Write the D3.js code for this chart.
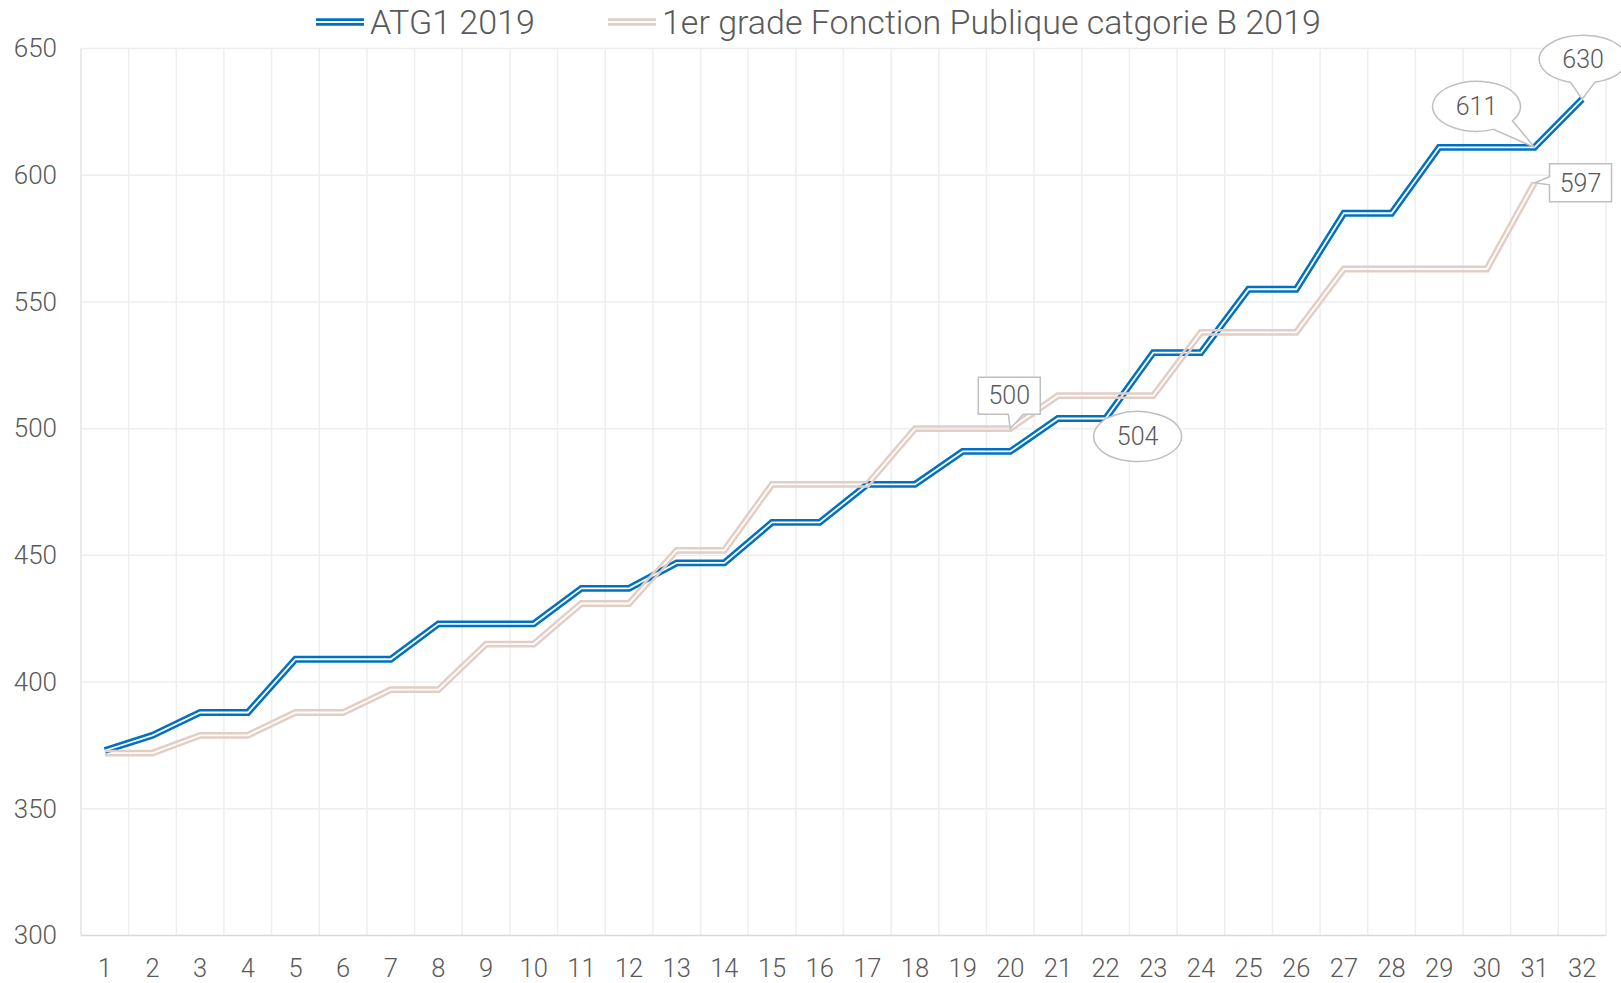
<!DOCTYPE html>
<html>
<head>
<meta charset="utf-8">
<script src="https://cdn.jsdelivr.net/npm/d3@7"></script>
<style>
  body { margin: 0; background: #fff; }
  text { font-family: Roboto, "Open Sans", sans-serif; font-weight: 300; fill: #595959; }
</style>
</head>
<body>
<div id="chart"></div>
<script>
// categories (echelons)
var echelons = d3.range(1, 33).map(String)

// series values
var atg1 = [373, 379, 388, 388, 409, 409, 409, 423, 423, 423, 437, 437, 447, 447, 463, 463,
            478, 478, 491, 491, 504, 504, 530, 530, 555, 555, 585, 585, 611, 611, 611, 630]
var fonctionB = [372, 372, 379, 379, 388, 388, 397, 397, 415, 415, 431, 431, 452, 452, 478, 478,
                 478, 500, 500, 500, 513, 513, 513, 538, 538, 538, 563, 563, 563, 563, 597, null]

var seriesNames = ["ATG1 2019", "1er grade Fonction Publique catgorie B 2019"]
var yTicks = [300, 350, 400, 450, 500, 550, 600, 650]

var width = 1621, height = 983
var plotL = 81, plotR = 1606, plotT = 48.5, plotB = 935.5
var colors = ["#0070c0", "#e3cec6"]

var svg = d3.select("#chart").append("svg").attr("width", width).attr("height", height)

var x = d3.scaleBand().domain(echelons).range([plotL, plotR])
var y = d3.scaleLinear().domain([300, 650]).range([plotB, plotT])
function cx(c) { return x(c) + x.bandwidth() / 2 }

// horizontal grid
svg.append("g")
  .selectAll("line").data(yTicks.slice(1)).enter().append("line")
    .attr("x1", plotL).attr("x2", plotR)
    .attr("y1", function(d) { return y(d) }).attr("y2", function(d) { return y(d) })
    .attr("stroke", "#eeeeee").attr("stroke-width", 1.5)

// vertical grid at category boundaries
svg.append("g")
  .selectAll("line").data(echelons).enter().append("line")
    .attr("x1", function(d) { return x(d) + x.bandwidth() }).attr("x2", function(d) { return x(d) + x.bandwidth() })
    .attr("y1", plotT).attr("y2", plotB)
    .attr("stroke", "#eeeeee").attr("stroke-width", 1.5)

svg.append("line").attr("x1", plotL).attr("x2", plotL).attr("y1", plotT).attr("y2", plotB)
  .attr("stroke", "#e3e3e3").attr("stroke-width", 1.5)
svg.append("line").attr("x1", plotL).attr("x2", plotR).attr("y1", plotB).attr("y2", plotB)
  .attr("stroke", "#d9d9d9").attr("stroke-width", 1.5)

// axes
var yAxis = svg.append("g").attr("transform", "translate(" + plotL + ",0)")
  .call(d3.axisLeft(y).tickValues(yTicks).tickSize(0).tickPadding(24))
yAxis.select(".domain").remove()
yAxis.selectAll("text").style("font-size", "26px").attr("fill", "#595959")

var xAxis = svg.append("g").attr("transform", "translate(0," + plotB + ")")
  .call(d3.axisBottom(x).tickSize(0).tickPadding(23))
xAxis.select(".domain").remove()
xAxis.selectAll("text").style("font-size", "25.5px").attr("fill", "#595959")

// double (compound) lines: thick stroke with a transparent gap cut by a mask
var line = d3.line()
  .defined(function(d) { return d.v != null })
  .x(function(d) { return cx(d.c) })
  .y(function(d) { return y(d.v) })

var defs = svg.append("defs")
var allSeries = [atg1, fonctionB]

allSeries.forEach(function(vals, i) {
  var pts = echelons.map(function(c, k) { return {c: c, v: vals[k]} })
  var m = defs.append("mask").attr("id", "gap" + i).attr("maskUnits", "userSpaceOnUse")
    .attr("x", 0).attr("y", 0).attr("width", width).attr("height", height)
  m.append("rect").attr("width", width).attr("height", height).attr("fill", "white")
  m.append("path").attr("d", line(pts)).attr("fill", "none").attr("stroke", "black").attr("stroke-width", 1.8)
  svg.append("path")
    .attr("d", line(pts))
    .attr("fill", "none")
    .attr("stroke", colors[i])
    .attr("stroke-width", 6.8)
    .attr("mask", "url(#gap" + i + ")")
})

// legend
var legendX = [316, 608]
seriesNames.forEach(function(name, i) {
  var g = svg.append("g").attr("transform", "translate(" + legendX[i] + ",22)")
  g.append("line").attr("x1", 0).attr("x2", 48).attr("y1", -2.4).attr("y2", -2.4)
    .attr("stroke", colors[i]).attr("stroke-width", 2.6)
  g.append("line").attr("x1", 0).attr("x2", 48).attr("y1", 2.4).attr("y2", 2.4)
    .attr("stroke", colors[i]).attr("stroke-width", 2.6)
  g.append("text").attr("x", 54).attr("y", 11.5).style("font-size", "34px").text(name)
})

// data callouts
var callouts = [
  {s: 0, k: 31, shape: "ellipse", dx: 1, dy: -40, rx: 44, ry: 24},
  {s: 0, k: 30, shape: "ellipse", dx: -58, dy: -41, rx: 44, ry: 25},
  {s: 1, k: 30, shape: "rect", dx: 46, dy: 0, w: 62, h: 38, side: "left"},
  {s: 1, k: 19, shape: "rect", dx: -1, dy: -33, w: 62, h: 37, side: "bottom"},
  {s: 0, k: 21, shape: "ellipse", dx: 32, dy: 18, rx: 44, ry: 25}
]

function ellipsePath(c, r, tip) {
  var th = Math.atan2((tip[1] - c[1]) / r[1], (tip[0] - c[0]) / r[0])
  var d = 0.28
  function p(a) { return [c[0] + r[0] * Math.cos(a), c[1] + r[1] * Math.sin(a)] }
  var a = p(th + d), b = p(th - d)
  return "M" + a + "A" + r[0] + "," + r[1] + " 0 1 1 " + b + "L" + tip + "Z"
}

function rectPath(c, w, h, side, tip) {
  var x0 = c[0] - w / 2, x1 = c[0] + w / 2, y0 = c[1] - h / 2, y1 = c[1] + h / 2
  if (side == "bottom") {
    return "M" + [x0, y0] + "L" + [x1, y0] + "L" + [x1, y1] + "L" + [c[0] + 14, y1] +
      "L" + tip + "L" + [c[0] - 1, y1] + "L" + [x0, y1] + "Z"
  }
  return "M" + [x0, y0] + "L" + [x1, y0] + "L" + [x1, y1] + "L" + [x0, y1] +
    "L" + [x0, c[1] + 2] + "L" + tip + "L" + [x0, c[1] - 6] + "Z"
}

callouts.forEach(function(o) {
  var v = allSeries[o.s][o.k]
  var tip = [cx(echelons[o.k]), y(v)]
  var c = [tip[0] + o.dx, tip[1] + o.dy]
  var d = o.shape == "ellipse" ? ellipsePath(c, [o.rx, o.ry], tip) : rectPath(c, o.w, o.h, o.side, tip)
  svg.append("path").attr("d", d).attr("fill", "white").attr("stroke", "#bfbfbf").attr("stroke-width", 1.5)
  svg.append("text").attr("x", c[0]).attr("y", c[1]).attr("dy", "0.35em")
    .attr("text-anchor", "middle").style("font-size", "25px").text(v)
})
</script>
</body>
</html>
